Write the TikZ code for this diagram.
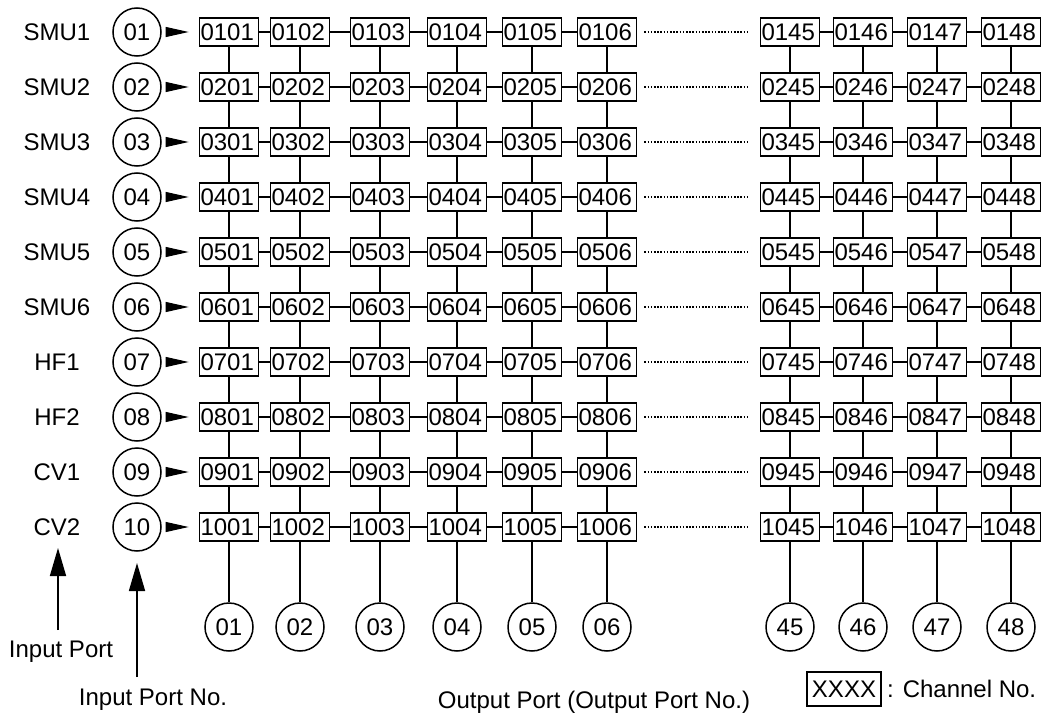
\documentclass[tikz,border=0pt]{standalone}
\usepackage{fontspec}
\setmainfont{Liberation Sans}
\usetikzlibrary{arrows.meta,calc}
\begin{document}
\begin{tikzpicture}[x=1pt,y=-1pt,
 chbox/.style={draw,line width=1.7pt,minimum height=28pt,text width=57pt,align=left,inner xsep=1pt,inner ysep=0pt,font=\fontsize{24}{24}\selectfont},
 port/.style={draw,circle,line width=1.5pt,minimum size=48pt,inner sep=0pt,font=\fontsize{24}{24}\selectfont},
 lbl/.style={font=\fontsize{24}{24}\selectfont,inner sep=0pt},
 wire/.style={line width=1.6pt},
 dots/.style={line width=1.4pt,dash pattern=on 1.6pt off 1.6pt},
 inarr/.style={-{Triangle[length=23pt,width=10pt]},line width=1pt,shorten <=5pt,shorten >=10pt},
 bigarr/.style={-{Triangle[length=28pt,width=16pt]},line width=1.6pt}]
\useasboundingbox (0,0) rectangle (1045,717);
\fill[white] (0,0) rectangle (1045,717);
% rows
\foreach \r/\lab [count=\i] in {01/SMU1,02/SMU2,03/SMU3,04/SMU4,05/SMU5,06/SMU6,07/HF1,08/HF2,09/CV1,10/CV2}{
  \pgfmathsetmacro\yy{32+55*(\i-1)}
  \node[lbl] (lab\i) at (57,\yy) {\lab};
  \node[port] (in\i) at (137,\yy) {\r};
  \foreach \c/\x [count=\j] in {01/229,02/300,03/380,04/457,05/532,06/607,45/790,46/863,47/937,48/1011}{
    \node[chbox] (b\i-\j) at (\x,\yy) {\r\c};
  }
}
% connectors in rows
\foreach \i in {1,...,10}{
  \draw[inarr] (in\i) -- (b\i-1);
  \foreach \j in {1,2,3,4,5,7,8,9}{
    \pgfmathtruncatemacro\k{\j+1}
    \draw[wire] (b\i-\j) -- (b\i-\k);
  }
  \draw[dots] ([xshift=7pt]b\i-6.east) -- ([xshift=-12pt]b\i-7.west);
}
% vertical connectors
\foreach \i in {1,...,9}{
  \pgfmathtruncatemacro\k{\i+1}
  \foreach \j in {1,...,10}{
    \draw[wire] (b\i-\j) -- (b\k-\j);
  }
}
% output ports
\foreach \c/\x [count=\j] in {01/229,02/300,03/380,04/457,05/532,06/607,45/790,46/863,47/937,48/1011}{
  \node[port] (out\j) at (\x,627) {\c};
  \draw[wire] (b10-\j) -- (out\j);
}
% legend texts and arrows
\node[lbl] (ip) at (61,652) {Input Port};
\coordinate (ipb) at (58,630);
\coordinate (ipt) at (58,548);
\draw[bigarr] (ipb) -- (ipt);
\node[lbl] (ipn) at (153,700) {Input Port No.};
\coordinate (ipnb) at (137,677);
\coordinate (ipnt) at (137,563);
\draw[bigarr] (ipnb) -- (ipnt);
\node[lbl] (opn) at (594,702) {Output Port (Output Port No.)};
\node[lbl,draw,line width=1.7pt,minimum width=74pt,minimum height=34pt] (key) at (844,689) {XXXX};
\node[lbl,anchor=west] (keyt) at (887,689) {: Channel No.};
\end{tikzpicture}
\end{document}
